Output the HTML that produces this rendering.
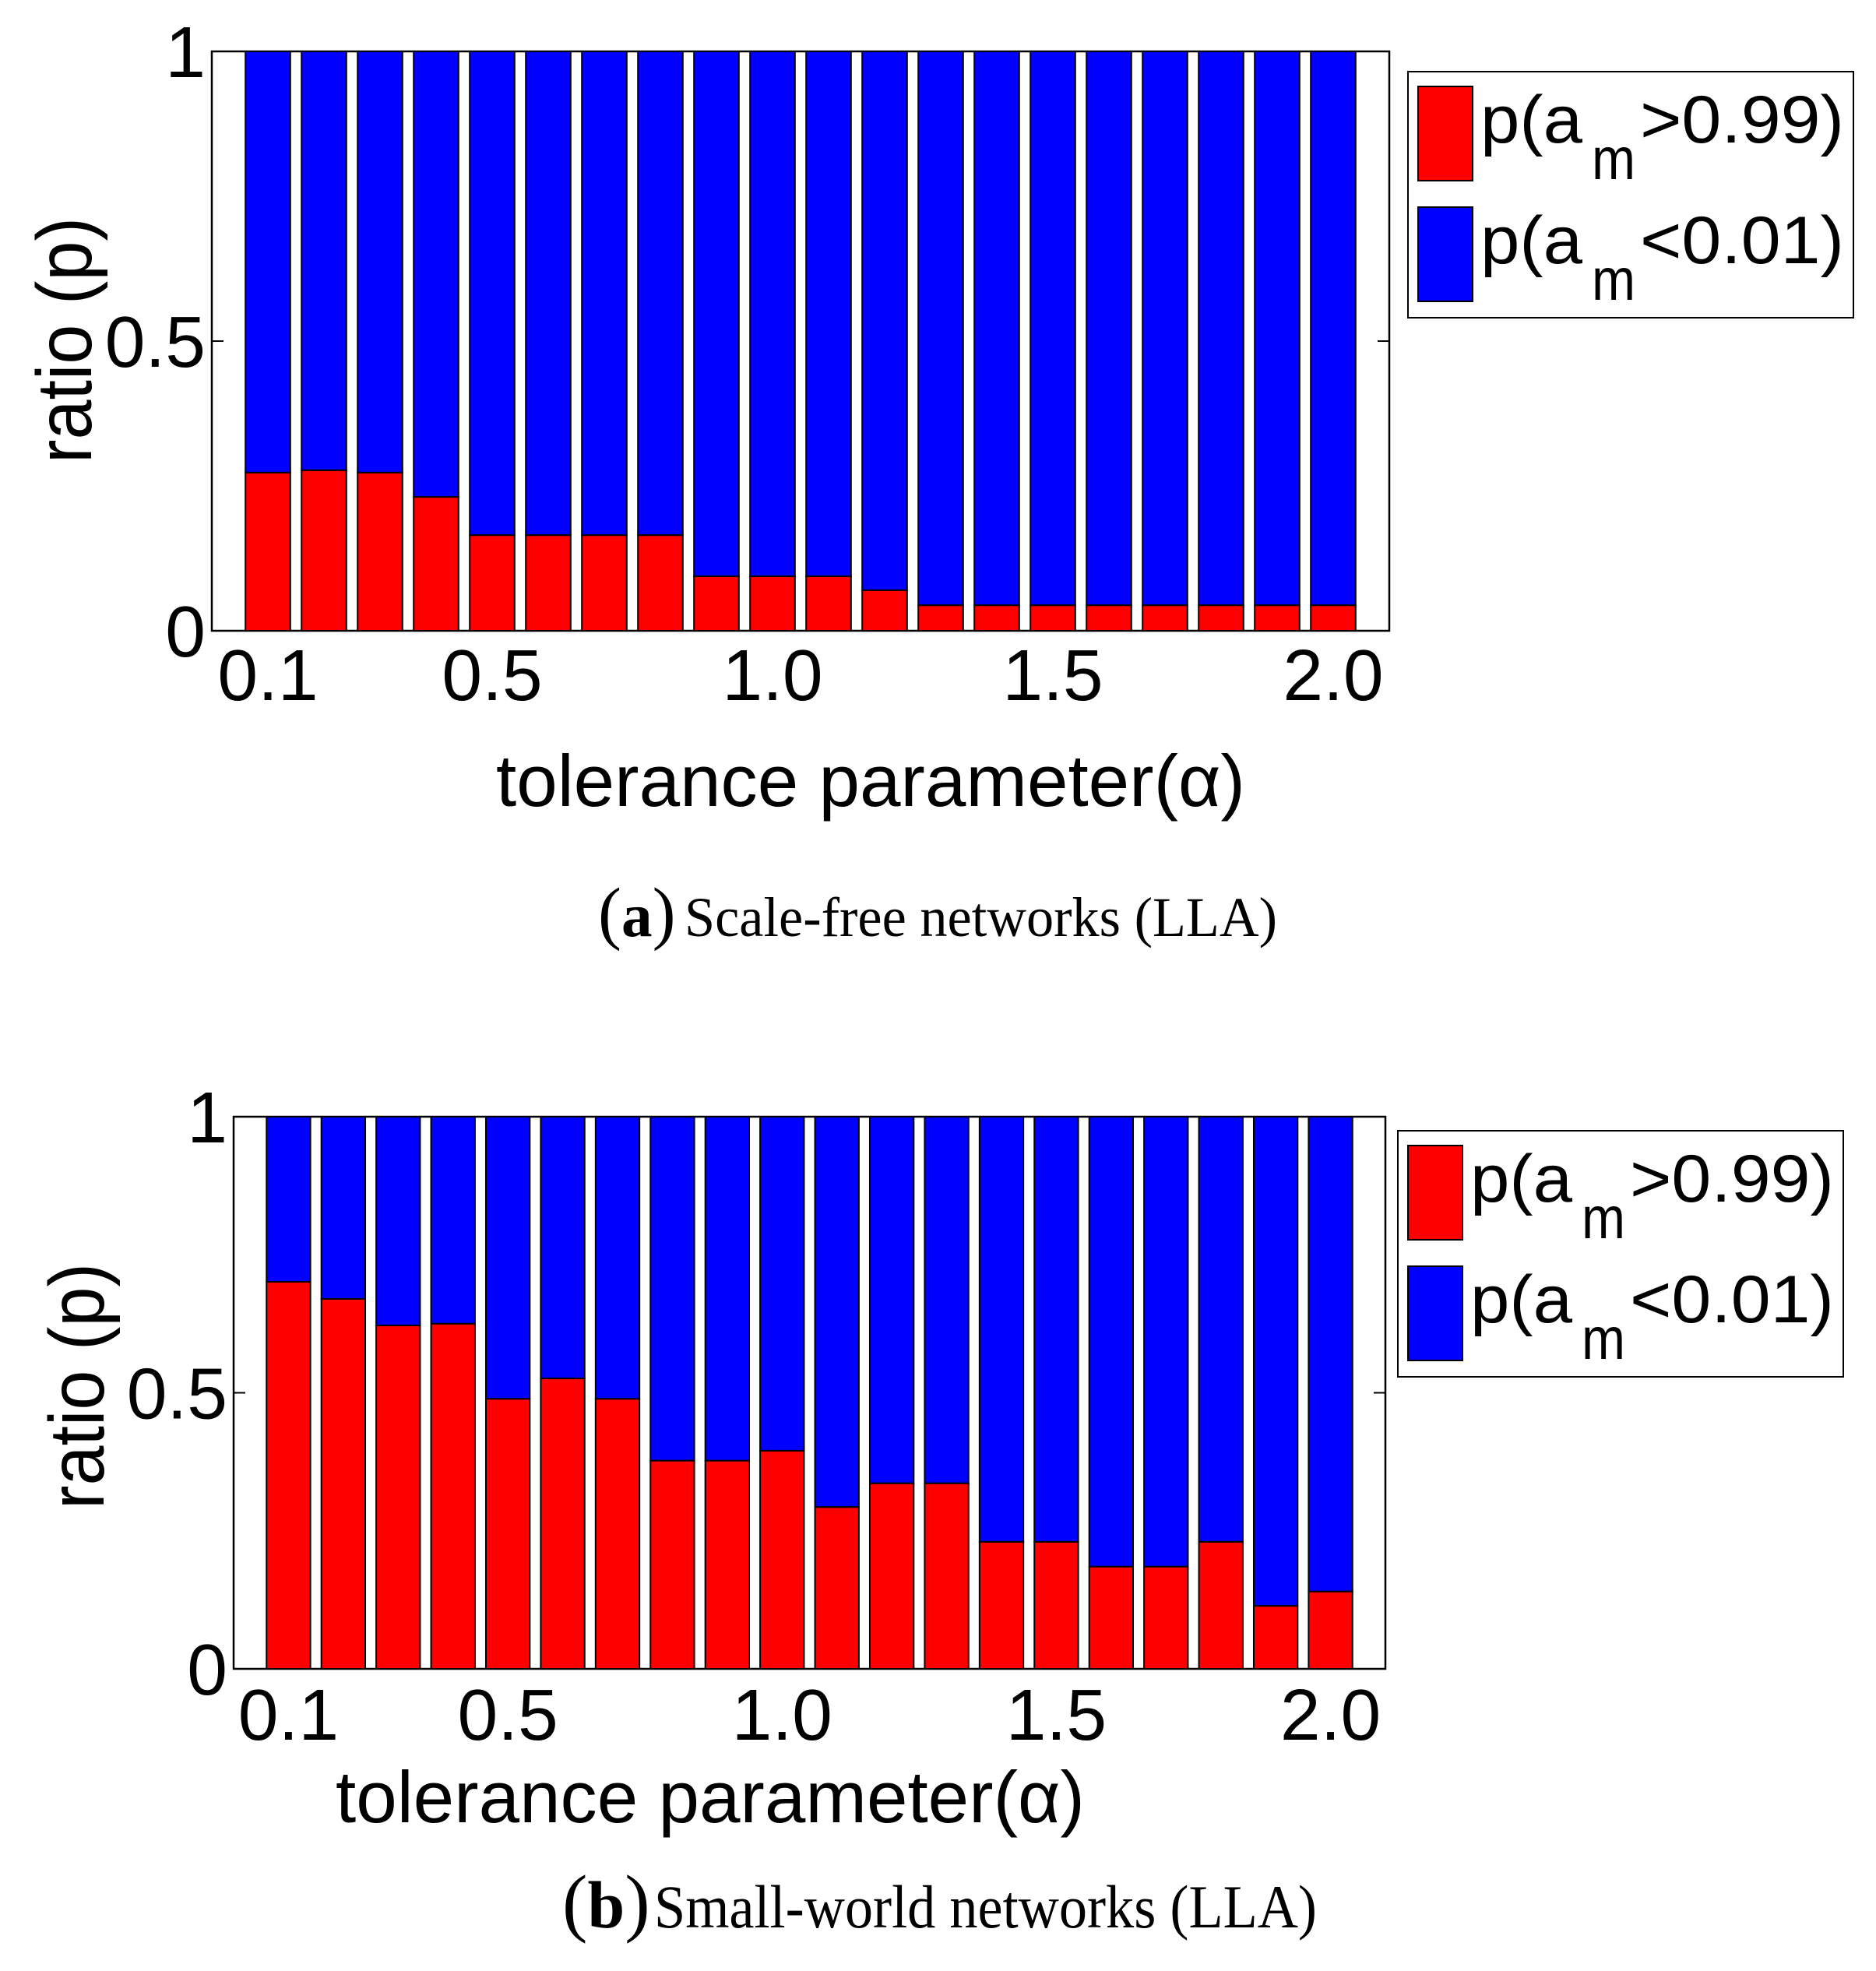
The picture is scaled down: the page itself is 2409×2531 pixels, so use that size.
<!DOCTYPE html>
<html><head><meta charset="utf-8"><style>
html,body{margin:0;padding:0;background:#fff;}
svg{display:block;}
text{font-family:"Liberation Sans",Arial,sans-serif;fill:#000;}
.serif{font-family:"Liberation Serif","Times New Roman",serif;}
</style></head>
<body>
<svg id="fig" width="2409" height="2531" viewBox="0 0 2409 2531" xmlns="http://www.w3.org/2000/svg"></svg>
<script>
// ---- data ----
const categories = ["0.1","0.2","0.3","0.4","0.5","0.6","0.7","0.8","0.9","1.0","1.1","1.2","1.3","1.4","1.5","1.6","1.7","1.8","1.9","2.0"];
const tickLabels = ["0.1","0.5","1.0","1.5","2.0"];
const yTickValues = [0, 0.5, 1];
const yTickLabels = ["0","0.5","1"];
const scaleFreeHigh = [0.273,0.277,0.273,0.231,0.165,0.165,0.165,0.165,0.094,0.094,0.094,0.070,0.044,0.044,0.044,0.044,0.044,0.044,0.044,0.044];
const smallWorldHigh = [0.701,0.670,0.622,0.625,0.489,0.526,0.489,0.377,0.377,0.395,0.293,0.336,0.336,0.230,0.230,0.185,0.185,0.230,0.114,0.140];

const NS = "http://www.w3.org/2000/svg";
const svg = document.getElementById("fig");
function mk(tag, attrs, parent){
  const e = document.createElementNS(NS, tag);
  for (const k in attrs) e.setAttribute(k, attrs[k]);
  (parent||svg).appendChild(e);
  return e;
}

function drawPanel(cfg, high, panelName){
  const g = mk("g", {});
  
  
  const n = categories.length;
  const xs = i => cfg.left + (i + 1) * (cfg.right - cfg.left) / (n + 1);
  const ys = v => cfg.bottom - v * (cfg.bottom - cfg.top);
  const step = (cfg.right - cfg.left) / (n + 1);
  const bw = step * 0.8;
  const box = mk("rect", {x:cfg.left, y:cfg.top, width:cfg.right-cfg.left, height:cfg.bottom-cfg.top, fill:"#fff", stroke:"#000", "stroke-width":2.5}, g);
  
  
  yTickValues.forEach(v => {
    const t1 = mk("line", {x1:cfg.left, x2:cfg.left+15, y1:ys(v), y2:ys(v), stroke:"#000", "stroke-width":2}, g);
    
    
    const t2 = mk("line", {x1:cfg.right-15, x2:cfg.right, y1:ys(v), y2:ys(v), stroke:"#000", "stroke-width":2}, g);
    
    
  });
  high.forEach((v, i) => {
    const cx = xs(i);
    const b = mk("rect", {x:cx-bw/2, y:ys(1), width:bw, height:ys(v)-ys(1), fill:"#0000ff", stroke:"#000", "stroke-width":2}, g);
    
    
    const r = mk("rect", {x:cx-bw/2, y:ys(v), width:bw, height:ys(0)-ys(v), fill:"#ff0000", stroke:"#000", "stroke-width":2}, g);
    
    
  });
  yTickValues.forEach((v, k) => {
    const t = mk("text", {x:cfg.left-8, y:ys(v)+33, "text-anchor":"end", "font-size":93}, g);
    t.textContent = yTickLabels[k];
    
    
  });
  tickLabels.forEach(lab => {
    const i = categories.indexOf(lab);
    const t = mk("text", {x:xs(i), y:cfg.xLabelBase, "text-anchor":"middle", "font-size":93}, g);
    t.textContent = lab;
    
    
  });
  const yt = mk("text", {x:0, y:0, "font-size":100, textLength:316, lengthAdjust:"spacingAndGlyphs", "text-anchor":"middle",
    transform:"translate(" + cfg.yTitleX + "," + cfg.yTitleY + ") rotate(-90)"}, g);
  yt.textContent = "ratio (p)";
  
  
  const xt = mk("text", {x:cfg.xTitleX, y:cfg.xTitleBase, "font-size":94, textLength:962, lengthAdjust:"spacingAndGlyphs"}, g);
  xt.textContent = "tolerance parameter(α)";
  
  
  // legend
  const L = cfg.legend;
  const lg = mk("g", {}, g);
  
  
  mk("rect", {x:L.x, y:L.y, width:L.w, height:316, fill:"#fff", stroke:"#000", "stroke-width":2}, lg);
  const entries = [["#ff0000", ">0.99)", 0], ["#0000ff", "<0.01)", 155]];
  entries.forEach(([col, txt, dy], k) => {
    const e = mk("g", {}, lg);
    
    
    mk("rect", {x:L.x+13, y:L.y+19+dy, width:70, height:121, fill:col, stroke:"#000", "stroke-width":2}, e);
    const t1 = mk("text", {x:L.x+93, y:L.y+91+dy, "font-size":86, textLength:131, lengthAdjust:"spacingAndGlyphs"}, e);
    t1.textContent = "p(a";
    const t2 = mk("text", {x:L.x+236, y:L.y+138+dy, "font-size":76, textLength:56, lengthAdjust:"spacingAndGlyphs"}, e);
    t2.textContent = "m";
    const t3 = mk("text", {x:L.x+298, y:L.y+91+dy, "font-size":86, textLength:262, lengthAdjust:"spacingAndGlyphs"}, e);
    t3.textContent = txt;
  });
  // caption
  const cg = mk("g", {}, g);
  
  
  const C = cfg.caption;
  const p = mk("text", {x:C.x, y:C.base, "font-size":C.fs*1.25, "class":"serif"}, cg);
  const s1 = mk("tspan", {}, p); s1.textContent = "(";
  const s2 = mk("tspan", {"font-weight":"bold", "font-size":C.fs*1.1}, p); s2.textContent = C.letter;
  const s3 = mk("tspan", {}, p); s3.textContent = ")";
  const ct = mk("text", {x:C.restX, y:C.base, "font-size":C.fs, "class":"serif", textLength:C.restW, lengthAdjust:"spacingAndGlyphs"}, cg);
  ct.textContent = C.text;
}

drawPanel({left:272, right:1784, top:66, bottom:810, xLabelBase:899, yTitleX:117, yTitleY:437,
  xTitleX:637, xTitleBase:1035, legend:{x:1808, y:92, w:572},
  caption:{x:768, base:1202, fs:72, letter:"a", restX:879, restW:761, text:"Scale-free networks (LLA)"}},
  scaleFreeHigh, "panel-a-scale-free");

drawPanel({left:300, right:1779, top:1434, bottom:2143, xLabelBase:2234, yTitleX:133, yTitleY:1780,
  xTitleX:431, xTitleBase:2340, legend:{x:1795, y:1452, w:572},
  caption:{x:722, base:2475, fs:78, letter:"b", restX:840, restW:851, text:"Small-world networks (LLA)"}},
  smallWorldHigh, "panel-b-small-world");
</script>
</body></html>
